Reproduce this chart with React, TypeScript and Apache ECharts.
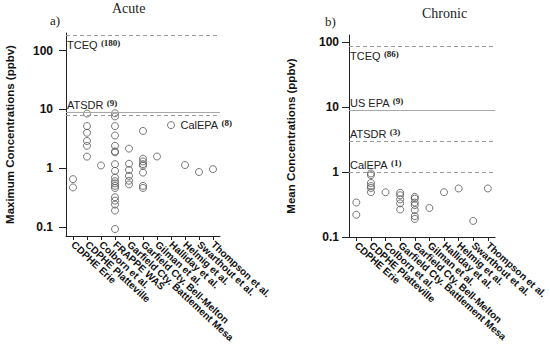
import React, { useEffect, useRef } from 'react';
import * as echarts from 'echarts';

const acuteCategories = [
  'CDPHE Erie', 'CDPHE Platteville', 'Colborn et al.', 'FRAPPE WAS',
  'Garfield Cty. Battlement Mesa', 'Garfield Cty. Bell-Melton', 'Gilman et al.',
  'Halliday et al.', 'Helmig et al.', 'Swarthout et al.', 'Thompson et al.',
];
const acuteValues: number[][] = [
  [0.65, 0.47],
  [8.5, 5.2, 4.0, 2.9, 2.4, 1.57],
  [1.11],
  [8.6, 7.6, 5.2, 3.6, 2.4, 1.93, 1.86, 1.17, 0.9, 0.69, 0.6, 0.55, 0.5, 0.46, 0.32, 0.28, 0.24, 0.19, 0.092, 0.066],
  [2.15, 1.19, 0.93, 0.74, 0.61, 0.53],
  [4.3, 1.45, 1.3, 1.17, 1.1, 0.84, 0.5, 0.46],
  [1.58],
  [5.4],
  [1.13],
  [0.86],
  [0.96],
];
const acuteRefNames = ['TCEQ', 'ATSDR', 'CalEPA'];
const acuteRefValues = [180, 9, 8];

const chronicCategories = [
  'CDPHE Erie', 'CDPHE Platteville', 'Colborn et al.',
  'Garfield Cty. Battlement Mesa', 'Garfield Cty. Bell-Melton', 'Gilman et al.',
  'Halliday et al.', 'Helmig et al.', 'Swarthout et al.', 'Thompson et al.',
];
const chronicValues: number[][] = [
  [0.34, 0.22],
  [0.955, 0.9, 0.68, 0.61, 0.57, 0.49],
  [0.49],
  [0.48, 0.44, 0.38, 0.33, 0.265],
  [0.415, 0.39, 0.34, 0.31, 0.26, 0.21, 0.19],
  [0.28],
  [0.49],
  [0.56],
  [0.177],
  [0.56],
];
const chronicRefNames = ['TCEQ', 'US EPA', 'ATSDR', 'CalEPA'];
const chronicRefValues = [86, 9, 3, 1];

const yTickValues = [0.1, 1, 10, 100];

const SANS = 'Liberation Sans, Arial, sans-serif';
const SERIF = 'Liberation Serif, serif';

const richLabel = {
  a: { fontFamily: SANS, fontSize: 11, color: '#222', verticalAlign: 'bottom' },
  b: { fontFamily: SERIF, fontSize: 9, color: '#222', verticalAlign: 'top', fontWeight: 'bold' },
};

function toPoints(cats: string[], vals: number[][]) {
  const out: [string, number][] = [];
  cats.forEach((c, i) => vals[i].forEach((v) => out.push([c, v])));
  return out;
}

type RefStyle = { solid: boolean; position: string; distance: number[] };

function refLines(names: string[], values: number[], styles: RefStyle[]) {
  return names.map((n, i) => ({
    yAxis: values[i],
    lineStyle: {
      color: styles[i].solid ? '#a8a8a8' : '#9a9a9a',
      width: 1.2,
      type: styles[i].solid ? 'solid' : [4, 3],
    },
    label: {
      show: true,
      position: styles[i].position,
      distance: styles[i].distance,
      formatter: `{a|${n}} {b|(${values[i]})}`,
      rich: richLabel,
    },
  }));
}

function yAxisBase(gridIndex: number, min: number, max: number, name: string, nameGap: number, margin: number) {
  return {
    type: 'log',
    gridIndex,
    logBase: 10,
    min,
    max,
    name,
    nameLocation: 'middle',
    nameGap,
    nameTextStyle: { fontFamily: SANS, fontSize: 11.5, fontWeight: 'bold', color: '#111' },
    axisLine: { show: true, lineStyle: { color: '#222', width: 1 } },
    axisTick: { show: true, length: 7, lineStyle: { color: '#222' }, customValues: yTickValues },
    minorTick: { show: false },
    splitLine: { show: false },
    axisLabel: {
      customValues: yTickValues,
      margin,
      fontFamily: SANS,
      fontSize: 12,
      fontWeight: 'bold',
      color: '#111',
      formatter: (v: number) => String(v),
    },
  };
}

function xAxisBase(gridIndex: number, cats: string[], rotate: number) {
  return {
    type: 'category',
    gridIndex,
    data: cats,
    boundaryGap: true,
    axisLine: { show: true, lineStyle: { color: '#222', width: 1 } },
    axisTick: { show: true, alignWithLabel: true, length: 4, lineStyle: { color: '#222' } },
    axisLabel: {
      interval: 0,
      rotate,
      margin: 7,
      fontFamily: SANS,
      fontSize: 10,
      fontWeight: 'bold',
      color: '#111',
    },
    splitLine: { show: false },
  };
}

export default function App() {
  const ref = useRef<HTMLDivElement>(null);
  useEffect(() => {
    if (!ref.current) return;
    const chart = echarts.init(ref.current, null, { renderer: 'svg' });
    const markerStyle = { color: 'transparent', borderColor: '#555', borderWidth: 1 };
    chart.setOption({
      animation: false,
      backgroundColor: '#fff',
      title: [
        { text: 'Acute', left: 112, top: 1, padding: 0, textStyle: { fontFamily: SERIF, fontSize: 14, fontWeight: 'normal', color: '#222' } },
        { text: 'a)', left: 50, top: 14, padding: 0, textStyle: { fontFamily: SERIF, fontSize: 13, fontWeight: 'normal', color: '#222' } },
        { text: 'Chronic', left: 422, top: 6, padding: 0, textStyle: { fontFamily: SERIF, fontSize: 14, fontWeight: 'normal', color: '#222' } },
        { text: 'b)', left: 325, top: 15, padding: 0, textStyle: { fontFamily: SERIF, fontSize: 13, fontWeight: 'normal', color: '#222' } },
      ],
      grid: [
        { left: 66, top: 33, width: 154, height: 203 },
        { left: 349, top: 35, width: 154, height: 202 },
      ],
      xAxis: [
        xAxisBase(0, acuteCategories, -43),
        xAxisBase(1, chronicCategories, -42),
      ],
      yAxis: [
        yAxisBase(0, 0.07, 200, 'Maximum Concentrations (ppbv)', 50, 13),
        yAxisBase(1, 0.1, 130, 'Mean Concentrations (ppbv)', 52, 10),
      ],
      series: [
        {
          type: 'scatter',
          xAxisIndex: 0,
          yAxisIndex: 0,
          symbol: 'circle',
          symbolSize: 7,
          itemStyle: markerStyle,
          data: toPoints(acuteCategories, acuteValues),
          markLine: {
            silent: true,
            symbol: ['none', 'none'],
            data: refLines(acuteRefNames, acuteRefValues, [
              { solid: false, position: 'insideStartBottom', distance: [1, 3] },
              { solid: true, position: 'insideStartTop', distance: [1, 2] },
              { solid: false, position: 'insideEndBottom', distance: [-12, 3] },
            ]),
          },
        },
        {
          type: 'scatter',
          xAxisIndex: 1,
          yAxisIndex: 1,
          symbol: 'circle',
          symbolSize: 7,
          itemStyle: markerStyle,
          data: toPoints(chronicCategories, chronicValues),
          markLine: {
            silent: true,
            symbol: ['none', 'none'],
            data: refLines(chronicRefNames, chronicRefValues, [
              { solid: false, position: 'insideStartBottom', distance: [1, 3] },
              { solid: true, position: 'insideStartTop', distance: [1, 2] },
              { solid: false, position: 'insideStartTop', distance: [1, 2] },
              { solid: false, position: 'insideStartTop', distance: [1, 2] },
            ]),
          },
        },
      ],
    });
    return () => chart.dispose();
  }, []);
  return (
    <div
      ref={ref}
      style={{ position: 'fixed', left: 0, top: 0, width: 550, height: 355, background: '#fff' }}
    />
  );
}
